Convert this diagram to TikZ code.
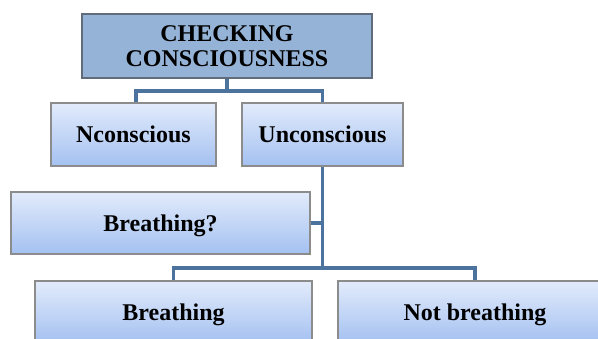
\documentclass[tikz,border=0pt]{standalone}
\usepackage{fontspec}
\setmainfont{Liberation Serif}
\definecolor{conn}{RGB}{76,114,158}
\definecolor{topfill}{RGB}{149,179,215}
\definecolor{topdraw}{RGB}{96,108,124}
\definecolor{lighttop}{RGB}{226,235,251}
\definecolor{lightbot}{RGB}{164,193,241}
\definecolor{boxdraw}{RGB}{140,140,140}
\tikzset{
  topbox/.style={draw=topdraw, line width=1.6pt, fill=topfill, align=center,
    font=\fontsize{24}{25}\selectfont\bfseries, inner sep=0pt},
  lowbox/.style={draw=boxdraw, line width=1.2pt, top color=lighttop, bottom color=lightbot,
    font=\fontsize{24}{26}\selectfont\bfseries, text height=16pt, text depth=0pt, inner sep=0pt},
  link/.style={draw=conn, line width=3.6pt}
}
\begin{document}
\begin{tikzpicture}[x=1pt,y=-1pt]
\useasboundingbox (0,0) rectangle (598,338);
\clip (0,0) rectangle (598,338);
\fill[white] (0,0) rectangle (598,338);
% connectors first
\coordinate (j1) at (227,91);
\coordinate (j2) at (322.5,268);
\node[topbox, minimum width=290pt, minimum height=64pt] (top) at (227,46) {CHECKING\\CONSCIOUSNESS};
\node[lowbox, minimum width=165pt, minimum height=63pt] (ncon) at (133.5,134.5) {Nconscious};
\node[lowbox, minimum width=161pt, minimum height=63pt] (ucon) at (322.5,134.5) {Unconscious};
\node[lowbox, minimum width=299pt, minimum height=62pt] (bq) at (160.5,223) {Breathing?};
\node[lowbox, minimum width=277pt, minimum height=62pt] (br) at (173.5,312) {Breathing};
\node[lowbox, minimum width=274pt, minimum height=62pt] (nbr) at (475,312) {Not breathing};
\draw[link] (top.south) -- (j1);
\draw[link] ([xshift=2.5pt]ncon.north) |- (j1) -| (ucon.north);
\draw[link] (ucon.south) -- (j2);
\draw[link] (bq.east) -- (bq.east -| j2);
\draw[link] (br.north) |- (j2) -| (nbr.north);
\end{tikzpicture}
\end{document}
